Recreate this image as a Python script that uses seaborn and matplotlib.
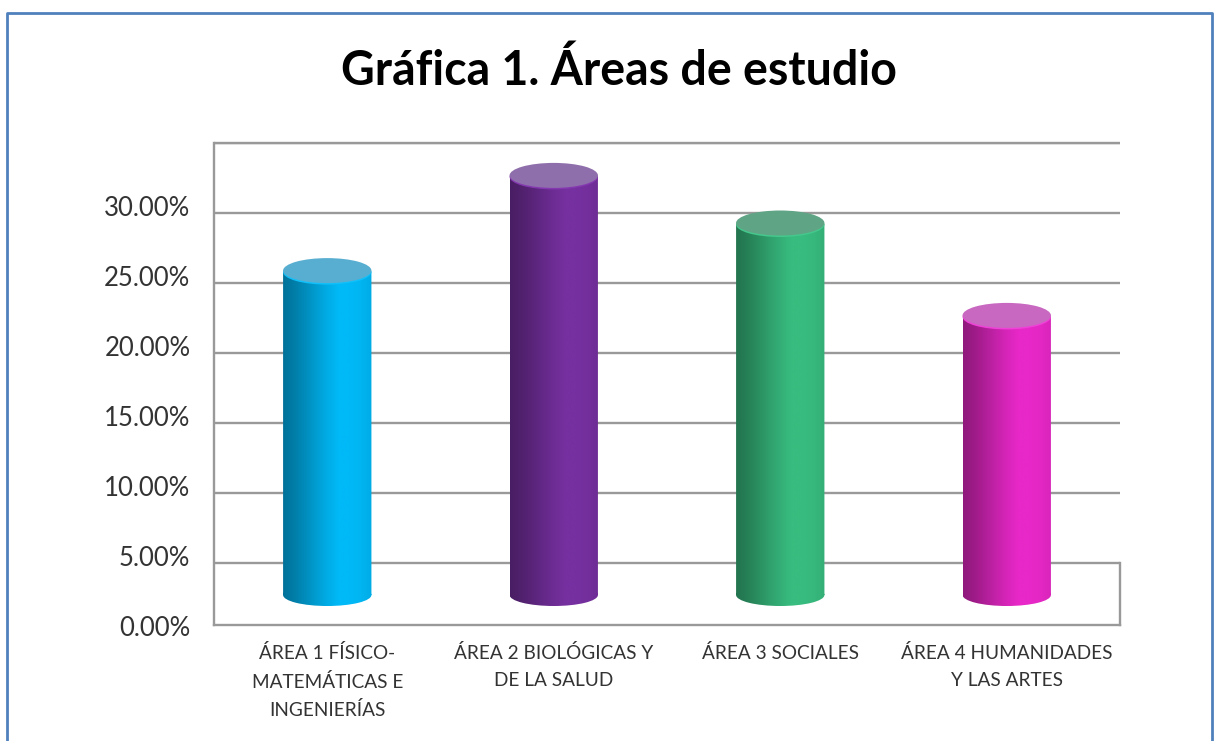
import numpy as np
import pandas as pd
import matplotlib
matplotlib.use('Agg')
import matplotlib.pyplot as plt
import seaborn as sns
from matplotlib.lines import Line2D
from matplotlib.patches import Ellipse
from matplotlib.path import Path
from matplotlib.colors import LinearSegmentedColormap
from matplotlib.transforms import Affine2D, ScaledTranslation

areas = ['ÁREA 1 FÍSICO-\nMATEMÁTICAS E\nINGENIERÍAS', 'ÁREA 2 BIOLÓGICAS Y\nDE LA SALUD',
         'ÁREA 3 SOCIALES', 'ÁREA 4 HUMANIDADES\nY LAS ARTES']
values = [23.1, 29.9, 26.5, 19.9]
ticks = [0, 5, 10, 15, 20, 25, 30]
tick_labels = ['0.00%', '5.00%', '10.00%', '15.00%', '20.00%', '25.00%', '30.00%']
side_colors = ['#00b9f7', '#7630a0', '#38bc7f', '#e828c8']
cap_colors = ['#58aed0', '#8f6fab', '#5fa585', '#c868c0']
rim_colors = ['#10c0fa', '#8438b0', '#44c88c', '#f040d8']

W, H = 1218, 741
PX = 14.0          # pixels per percent point at the plane of the bars
BASE = 595         # pixel row of 0 % at the bars
BAR_W = 0.39
grey = '#999999'

sns.set_style('white')
plt.rcParams['font.family'] = ['Lato', 'DejaVu Sans']

fig = plt.figure(figsize=(W / 100, H / 100), dpi=100)
ax = fig.add_axes([214 / W, 1 - 625 / H, (1120 - 214) / W, (625 - 143) / H])

df = pd.DataFrame({'area': areas, 'value': values})
sns.barplot(data=df, x='area', y='value', hue='area', palette=side_colors, width=BAR_W,
            dodge=False, legend=False, ax=ax, zorder=3)

y_low = (BASE - 625) / PX
y_high = (BASE - 143) / PX
back = (BASE - 563) / PX   # back wall sits this far up the picture

# back wall gridlines
ax.hlines([t + back for t in ticks], -0.5, 3.5, color=grey, lw=1.7, zorder=1)

shade = np.array([0.62, 0.68, 0.76, 0.85, 0.93, 1.0, 1.0, 0.98, 0.93])
xs = np.linspace(0, 1, 200)
for i, (bar, val) in enumerate(zip(ax.patches, values)):
    c = matplotlib.colors.to_rgb(side_colors[i])
    cmap = LinearSegmentedColormap.from_list('side', [tuple(np.array(c) * s) for s in shade])
    left = bar.get_x()
    w = bar.get_width()
    cx = left + w / 2
    bar.set_visible(False)
    low_h = 22 / PX
    # body plus rounded bottom, gradient clipped to it
    rect = Path.unit_rectangle().transformed(Affine2D().scale(w, val).translate(left, 0))
    foot = Path.unit_circle().transformed(Affine2D().scale(w / 2, low_h / 2).translate(cx, 0))
    clip = Path.make_compound_path(rect, foot)
    im = ax.imshow(xs[None, :], cmap=cmap, extent=[left, left + w, -low_h, val + 1], aspect='auto', zorder=3)
    im.set_clip_path(clip, transform=ax.transData)
    # top of the cylinder
    cap_h = 25 / PX
    ax.add_patch(Ellipse((cx, val - 0.5 / PX), w, cap_h, color=rim_colors[i], lw=0, zorder=4))
    ax.add_patch(Ellipse((cx, val + 1 / PX), w, cap_h, color=cap_colors[i], lw=0, zorder=5))

ax.set_xlim(-0.5, 3.5)
ax.set_ylim(y_low, y_high)
ax.set_yticks(ticks, tick_labels)
ax.set_xlabel('')
ax.set_ylabel('')
ax.tick_params(axis='y', length=0, labelsize=18.5, labelcolor='#333333', pad=17)
ax.tick_params(axis='x', length=0, labelsize=13.7, labelcolor='#333333', pad=13.5)
ax.grid(False)

# tick labels belong to the front of the floor
shift = ScaledTranslation(0, -31 / 100, fig.dpi_scale_trans)
for label in ax.get_yticklabels():
    label.set_transform(label.get_transform() + shift)
for label in ax.get_xticklabels():
    label.set_linespacing(1.72)

for name in ['left', 'bottom', 'right']:
    ax.spines[name].set_color(grey)
    ax.spines[name].set_linewidth(1.7)
ax.spines['top'].set_visible(False)
ax.spines['right'].set_bounds(y_low, back)
ax.hlines(y_high, -0.5, 3.5, color=grey, lw=1.7, zorder=1, clip_on=False)

# outer chart border, open at the bottom
border = '#4f81bd'
fig.add_artist(Line2D([7 / W, 7 / W, 1212 / W, 1212 / W], [0, 1 - 13 / H, 1 - 13 / H, 0], color=border, lw=2))

fig.text(619 / W, 1 - 71 / H, 'Gráfica 1. Áreas de estudio', ha='center', va='center',
         fontsize=33.5, fontweight='bold', color='black')

fig.savefig('out.png', dpi=100)
